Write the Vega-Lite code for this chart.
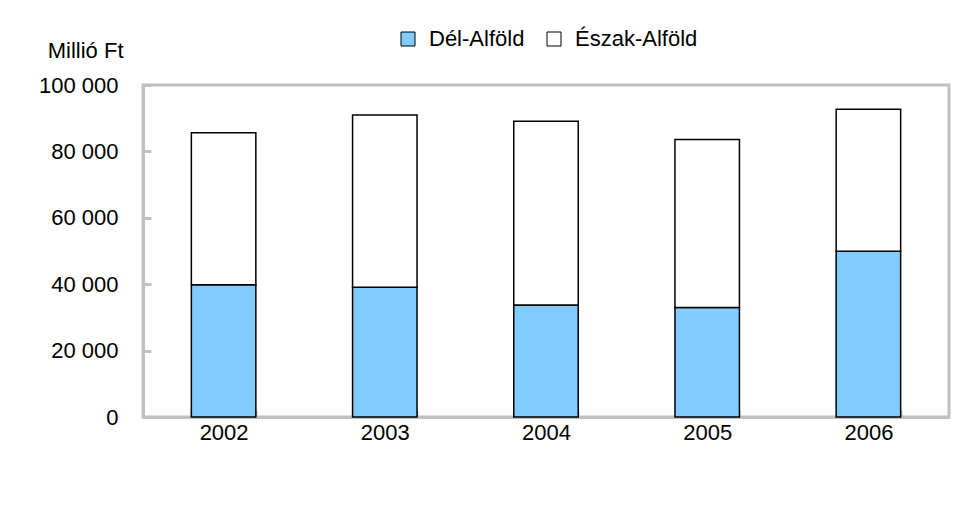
{
  "$schema": "https://vega.github.io/schema/vega-lite/v6.json",
  "width": 806,
  "height": 332,
  "autosize": {"type": "none"},
  "padding": {"left": 143, "top": 85, "right": 8, "bottom": 91},
  "background": "white",
  "config": {
    "font": "Liberation Sans",
    "view": {"stroke": "#C0C0C0", "strokeWidth": 3},
    "axis": {"labelFont": "Liberation Sans", "titleFont": "Liberation Sans"}
  },
  "data": {
    "values": [
      {"year": "2002", "region": "Dél-Alföld", "value": 39800, "ord": 1},
      {"year": "2002", "region": "Észak-Alföld", "value": 45800, "ord": 2},
      {"year": "2003", "region": "Dél-Alföld", "value": 39100, "ord": 1},
      {"year": "2003", "region": "Észak-Alföld", "value": 51900, "ord": 2},
      {"year": "2004", "region": "Dél-Alföld", "value": 33700, "ord": 1},
      {"year": "2004", "region": "Észak-Alföld", "value": 55400, "ord": 2},
      {"year": "2005", "region": "Dél-Alföld", "value": 33000, "ord": 1},
      {"year": "2005", "region": "Észak-Alföld", "value": 50600, "ord": 2},
      {"year": "2006", "region": "Dél-Alföld", "value": 49900, "ord": 1},
      {"year": "2006", "region": "Észak-Alföld", "value": 42800, "ord": 2}
    ]
  },
  "mark": {"type": "bar", "stroke": "black", "strokeWidth": 1.5},
  "encoding": {
    "x": {
      "field": "year",
      "type": "ordinal",
      "scale": {"paddingInner": 0.6, "paddingOuter": 0.3},
      "axis": {
        "title": null,
        "labelAngle": 0,
        "labelFontSize": 22,
        "labelColor": "black",
        "labelPadding": 12,
        "domainColor": "#C0C0C0",
        "domainWidth": 3,
        "tickBand": "extent",
        "tickColor": "#C0C0C0",
        "tickWidth": 2,
        "tickSize": -7
      }
    },
    "y": {
      "field": "value",
      "type": "quantitative",
      "stack": "zero",
      "scale": {"domain": [0, 100000], "nice": false},
      "axis": {
        "values": [0, 20000, 40000, 60000, 80000, 100000],
        "format": ",d",
        "labelExpr": "replace(datum.label, ',', ' ')",
        "grid": false,
        "title": "Millió Ft",
        "titleAngle": 0,
        "titleAlign": "right",
        "titleBaseline": "alphabetic",
        "titleX": -20,
        "titleY": -28,
        "titleFontSize": 22,
        "titleFontWeight": "normal",
        "titleColor": "black",
        "labelFontSize": 22,
        "labelColor": "black",
        "labelPadding": 33,
        "domainColor": "#C0C0C0",
        "domainWidth": 3,
        "tickColor": "#C0C0C0",
        "tickWidth": 3,
        "tickSize": -8
      }
    },
    "color": {
      "field": "region",
      "type": "nominal",
      "scale": {"domain": ["Dél-Alföld", "Észak-Alföld"], "range": ["#80CCFF", "#FFFFFF"]},
      "legend": {
        "title": null,
        "orient": "none",
        "legendX": 254,
        "legendY": -57,
        "direction": "horizontal",
        "symbolType": "square",
        "symbolSize": 196,
        "symbolStrokeColor": "black",
        "symbolStrokeWidth": 1,
        "labelFontSize": 22,
        "labelColor": "black",
        "labelOffset": 10,
        "columnPadding": 18
      }
    },
    "order": {"field": "ord", "type": "quantitative"}
  }
}
